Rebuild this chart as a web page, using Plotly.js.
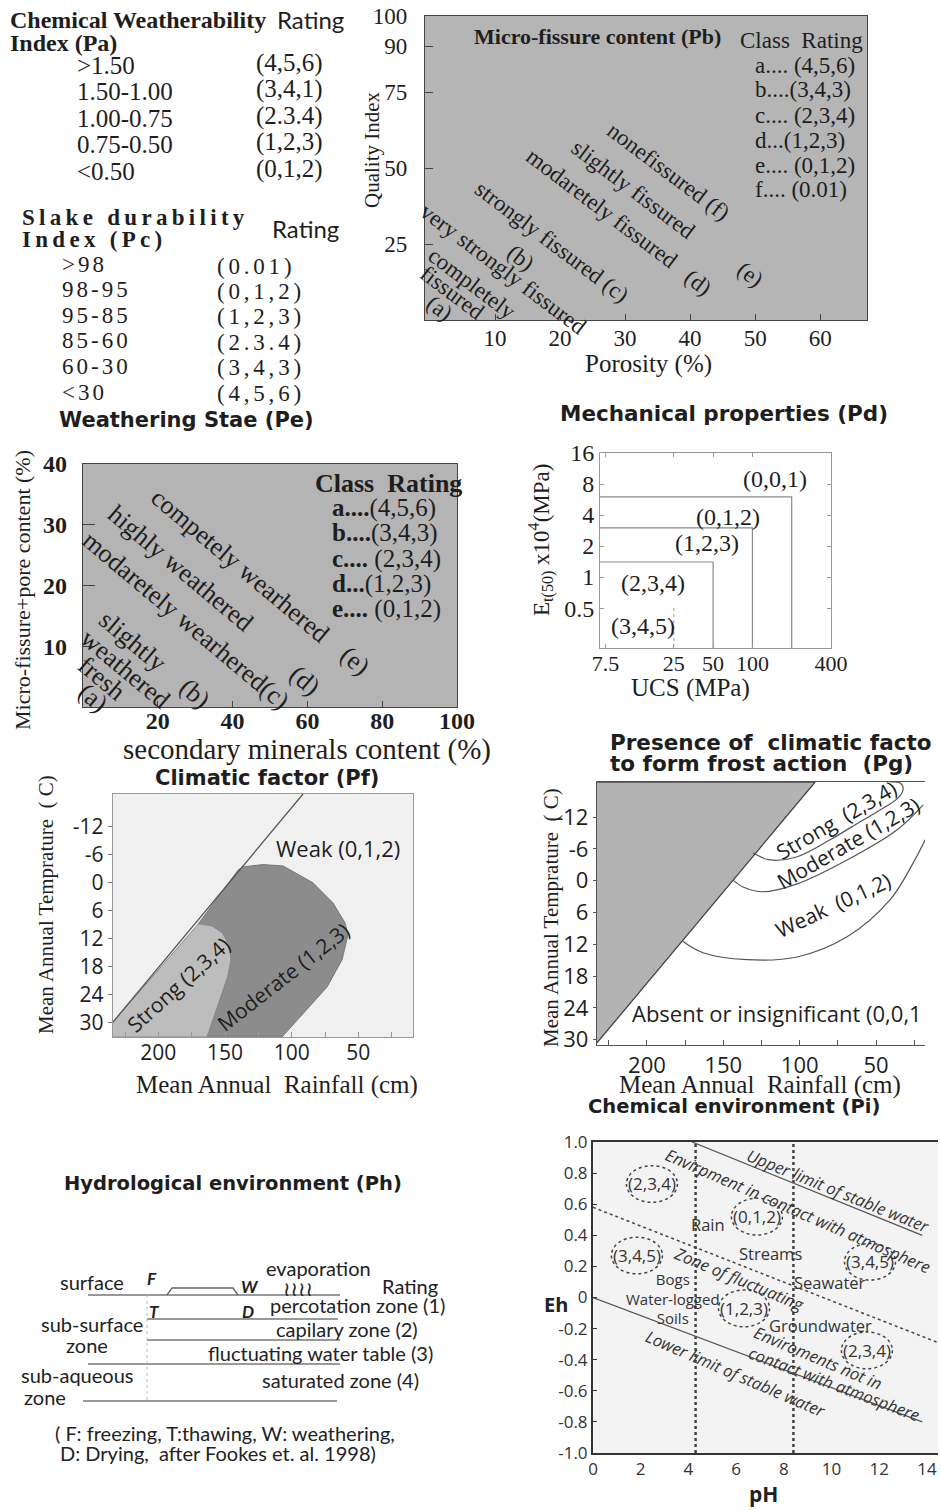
<!DOCTYPE html>
<html><head><meta charset="utf-8">
<script src="https://cdn.plot.ly/plotly-3.0.1.min.js"></script>
<style>html,body{margin:0;padding:0;background:#fff}#chart{width:941px;height:1510px}</style>
</head><body><div id="chart"></div>
<script>
// ================= DATA =================
// Chemical Weatherability Index (Pa)
const paRanges  = ['>1.50','1.50-1.00','1.00-0.75','0.75-0.50','<0.50'];
const paRatings = ['(4,5,6)','(3,4,1)','(2.3.4)','(1,2,3)','(0,1,2)'];
// Slake durability Index (Pc)
const pcRanges  = ['>98','98-95','95-85','85-60','60-30','<30'];
const pcRatings = ['(0.01)','(0,1,2)','(1,2,3)','(2.3.4)','(3,4,3)','(4,5,6)'];
// Micro-fissure content (Pb)
const pbXTicks = [10,20,30,40,50,60];
const pbYTicks = [25,50,75,90,100];
const pbClassLabels  = ['a.... ','b....','c.... ','d...','e.... ','f.... '];
const pbClassRatings = ['(4,5,6)','(3,4,3)','(2,3,4)','(1,2,3)','(0,1,2)','(0.01)'];
// Weathering state (Pe)
const peXTicks = [20,40,60,80,100];
const peYTicks = [10,20,30,40];
const peClassLabels  = ['a....','b....','c.... ','d...','e.... '];
const peClassRatings = ['(4,5,6)','(3,4,3)','(2,3,4)','(1,2,3)','(0,1,2)'];
// Mechanical properties (Pd)
const pdXTicks = [7.5,25,50,100,400];
const pdYTicks = [0.5,1,2,4,8,16];
const pdUcsLimits = [50,100,200];
const pdEtLimits  = [1.4,3,6];
const pdDotUcs = 25, pdDotEt = 0.5;
const pdRatings = ['(3,4,5)','(2,3,4)','(1,2,3)','(0,1,2)','(0,0,1)'];
// Climatic factor (Pf)
const rainTicks = [200,150,100,50];
const rainMinorTicks = [225,175,125,75,25];
const tempTicks = [-12,-6,0,6,12,18,24,30];
const pfLimitRain = [234,91.5];
const pfLimitTemp = [29.8,-19];
const pfStrongRain = [234,170,160,152,147,145.5,148,154,163.5,234];
const pfStrongTemp = [29.8,8.8,9.2,10.7,13.3,16.5,20.1,25.1,33,33];
const pfModRain = [170,140,136.5,121.5,106.5,84,69,60,57.75,62.25,73.5,91.5,107.25,163.5,154,148,145.5,147,152,160];
const pfModTemp = [8.8,-2.8,-3.4,-3.9,-3.6,0,4.3,8.6,11.1,16.5,22.3,27.9,33,33,25.1,20.1,16.5,13.3,10.7,9.2];
// Frost action (Pg)
const pgFrostRain = [232.7,89.9,232.7];
const pgFrostTemp = [-18.6,-18.6,30.6];
const pgStrongRain = [130.5,119.4,101.7,80.1,60.5,47.4,35.6,32.3,34.3,40.8];
const pgStrongTemp = [-5.2,-3.9,-4.5,-7.7,-11.1,-13.3,-15.6,-17.3,-18.4,-18.6];
const pgModRain = [143.6,137.1,124,101.7,69,36.2,19.2];
const pgModTemp = [-0.1,1.2,2.1,0.6,-3.9,-9.6,-14.3];
const pgWeakRain = [176.4,163.3,134.5,101.7,69,40.8,25.8,17.9];
const pgWeakTemp = [11.5,13.6,14.9,14.4,10.6,3.6,-3.3,-7.7];
// Chemical environment (Pi)
const phTicks = [0,2,4,6,8,10,12,14];
const ehTicks = [-1,-0.8,-0.6,-0.4,-0.2,0,0.2,0.4,0.6,0.8,1];
const ehLabels = ['-1.0','-0.8','-0.6','-0.4','-0.2','0','0.2','0.4','0.6','0.8','1.0'];
const piUpperPh = [4.15,13.8],  piUpperEh = [1.0,0.40];
const piLowerPh = [0,13.8],     piLowerEh = [0,-0.80];
const piFluctPh = [0,14.46],    piFluctEh = [0.58,-0.29];
const piBoundPh = [4.3,8.4];
const piEllipsePh = [2.47,6.87,1.84,11.61,6.33,11.48];
const piEllipseEh = [0.73,0.52,0.27,0.23,-0.07,-0.34];
const piEllipseLabels = ['(2,3,4)','(0,1,2)','(3,4,5)','(3,4,5)','(1,2,3)','(2,3,4)'];
// Hydrological environment (Ph) schematic (diagram units)
const phLineDepth = [15,39,60,84,121];
const phLineStart = [88,147,147,88,83];
const phLineEnd   = [340,338,340,340,337];
const phBumpX = [167,172,233,238], phBumpDepth = [15,8,8,15];
const phZoneNames = ['percotation zone (1)','capilary zone (2)','fluctuating water table (3)','saturated zone (4)'];

// ================= DRAWING =================
const W = 941, H = 1510;
const SERIF = 'Liberation Serif, Times New Roman, serif';
const SANS = 'Open Sans, sans-serif';
const TSANS = 'DejaVu Sans, sans-serif';
const LATO = 'Lato, sans-serif';
const INK = '#1e1e1e';
const esc = s => s.replace(/&/g,'&amp;').replace(/</g,'&lt;').replace(/>/g,'&gt;');
const dx = (l,r) => [l/W, r/W];
const dy = (t,b) => [1-b/H, 1-t/H];
function T(x,y,text,font,o){
  return Object.assign({xref:'paper',yref:'paper',x:x/W,y:1-y/H,text:text,showarrow:false,
    xanchor:'center',yanchor:'middle',font:Object.assign({family:SERIF,size:20,color:INK},font||{})},o||{});
}
function axis(domain,o){
  return Object.assign({domain:domain,showgrid:false,zeroline:false,showline:true,linecolor:'#444',linewidth:1.2,
    ticks:'inside',tickcolor:'#444',ticklen:6,tickmode:'array',fixedrange:true,automargin:false,
    tickfont:{family:SERIF,size:22,color:INK}},o);
}
const ann = [];
const shapes = [];
const traces = [];

// ---------- Tables Pa / Pc ----------
ann.push(T(8,20,'<b>Chemical Weatherability</b>',{size:24},{xanchor:'left'}));
ann.push(T(275,20,'Rating',{family:LATO,size:24},{xanchor:'left'}));
ann.push(T(8,43,'<b>Index (Pa)</b>',{size:24},{xanchor:'left'}));
paRanges.forEach((r,i)=>{
  ann.push(T(75,65+i*26.5,esc(r),{size:25},{xanchor:'left'}));
  ann.push(T(254,63+i*26.5,paRatings[i],{size:25},{xanchor:'left'}));
});
const LS = (s,n) => '<span style="letter-spacing:'+(n||3)+'px">'+s+'</span>';
ann.push(T(20,217,'<b>'+LS('Slake durability',4.3)+'</b>',{size:23},{xanchor:'left'}));
ann.push(T(20,239,'<b>'+LS('Index (Pc)',4.3)+'</b>',{size:23},{xanchor:'left'}));
ann.push(T(270,228,'Rating',{family:LATO,size:24},{xanchor:'left'}));
pcRanges.forEach((r,i)=>{
  ann.push(T(60,264+i*25.6,LS(esc(r)),{size:23},{xanchor:'left'}));
  ann.push(T(215,266+i*25.4,LS(pcRatings[i],3.8),{size:23},{xanchor:'left'}));
});
ann.push(T(57,420,'<b>Weathering Stae (Pe)</b>',{family:TSANS,size:21},{xanchor:'left'}));

// ---------- Pb : Micro-fissure content ----------
shapes.push({type:'rect',xref:'x domain',yref:'y domain',x0:0,x1:1,y0:0,y1:1,fillcolor:'#b5b5b5',line:{width:0},layer:'below'});
const L = {};
L.xaxis = axis(dx(425,867),{anchor:'y',range:[-0.77,67.2],tickvals:pbXTicks,mirror:true,ticklabelstandoff:-3,tickfont:{family:SERIF,size:23,color:INK}});
L.yaxis = axis(dy(16,320),{anchor:'x',range:[0,100],tickvals:pbYTicks,mirror:true,ticklen:8,ticklabelstandoff:12,tickfont:{family:SERIF,size:23,color:INK}});
traces.push({type:'scatter',mode:'markers',xaxis:'x',yaxis:'y',x:[],y:[],hoverinfo:'skip'});
ann.push(T(372,150,'Quality Index',{size:21},{textangle:-90}));
ann.push(T(648,364,'Porosity (%)',{size:25}));
ann.push(T(597,37,'<b>Micro-fissure content (Pb)</b>',{size:22}));
ann.push(T(738,40,'Class\u00a0\u00a0Rating',{size:23},{xanchor:'left'}));
pbClassLabels.forEach((c,i)=>ann.push(T(753,65+i*25,c+pbClassRatings[i],{size:23},{xanchor:'left'})));
[['nonefissured (f)',668,172],['slightly fissured',633,190],['modaretely fissured',602,208],
 ['strongly fissured (c)',551,242],['(b)',520,258],['(d)',698,282],['(e)',750,275],
 ['very strongly fissured',504,269],['completely',472,283],['fissured',452,292],['(a)',440,308]]
 .forEach(a=>ann.push(T(a[1],a[2],a[0],{size:23},{textangle:37})));

// ---------- Pe : Weathering state ----------
shapes.push({type:'rect',xref:'x2 domain',yref:'y2 domain',x0:0,x1:1,y0:0,y1:1,fillcolor:'#b4b4b4',line:{width:0},layer:'below'});
L.xaxis2 = axis(dx(83,457),{anchor:'y2',range:[0,100],tickvals:peXTicks,ticktext:peXTicks.map(v=>'<b>'+v+'</b>'),mirror:true,ticklabelstandoff:-8,tickfont:{family:SERIF,size:24,color:INK}});
L.yaxis2 = axis(dy(464,707),{anchor:'x2',range:[0,40],tickvals:peYTicks,ticktext:peYTicks.map(v=>'<b>'+v+'</b>'),mirror:true,ticklen:12,ticklabelstandoff:10,tickfont:{family:SERIF,size:24,color:INK}});
traces.push({type:'scatter',mode:'markers',xaxis:'x2',yaxis:'y2',x:[],y:[],hoverinfo:'skip'});
ann.push(T(22,590,'Micro-fissure+pore content (%)',{size:22},{textangle:-90}));
ann.push(T(307,749,'secondary minerals content (%)',{size:29}));
ann.push(T(388,484,'<b>Class\u00a0\u00a0Rating</b>',{size:26}));
peClassLabels.forEach((c,i)=>ann.push(T(330,508+i*25.3,'<b>'+c+'</b>'+peClassRatings[i],{size:25},{xanchor:'left'})));
[['competely wearhered',240,565],['(e)',355,660],['highly weathered',181,568],['modaretely wearhered(c)',186,620],
 ['(d)',305,680],['slightly',133,641],['weathered',126,669],['(b)',195,693],['fresh',102,678],['(a)',93,697]]
 .forEach(a=>ann.push(T(a[1],a[2],a[0],{size:26},{textangle:40})));

// ---------- Pd : Mechanical properties ----------
const PD_X = [Math.log10(6.8),Math.log10(400)], PD_Y = [Math.log10(0.205),Math.log10(16)];
const PD_XMIN = Math.pow(10,PD_X[0]), PD_YMIN = Math.pow(10,PD_Y[0]);
L.xaxis3 = axis(dx(600,831),{anchor:'y3',type:'log',range:PD_X,tickvals:pdXTicks,ticktext:pdXTicks.map(String),mirror:'allticks',linecolor:'#999',linewidth:1,tickcolor:'#999',ticklen:4,ticklabelstandoff:-4,tickfont:{family:SERIF,size:22,color:INK}});
L.yaxis3 = axis(dy(453,648),{anchor:'x3',type:'log',range:PD_Y,tickvals:pdYTicks,ticktext:pdYTicks.map(String),mirror:'allticks',linecolor:'#999',linewidth:1,tickcolor:'#999',ticklen:4,tickfont:{family:SERIF,size:24,color:INK}});
pdUcsLimits.forEach((u,i)=>traces.push({type:'scatter',mode:'lines',xaxis:'x3',yaxis:'y3',
  x:[PD_XMIN,u,u],y:[pdEtLimits[i],pdEtLimits[i],PD_YMIN],line:{color:'#8a8a8a',width:1.2},hoverinfo:'skip'}));
traces.push({type:'scatter',mode:'lines',xaxis:'x3',yaxis:'y3',x:[pdDotUcs,pdDotUcs],y:[pdDotEt,PD_YMIN],line:{color:'#aaa',width:1.2,dash:'dot'},hoverinfo:'skip'});
ann.push(T(724,413,'<b>Mechanical properties (Pd)</b>',{family:TSANS,size:21.5}));
[[643,626],[653,583],[707,543],[728,517],[775,479]].forEach((p,i)=>ann.push(T(p[0],p[1],pdRatings[i],{size:24})));
ann.push(T(541,540,'E<sub>t(50)</sub> x10<sup>4</sup>(MPa)',{size:23},{textangle:-90}));
ann.push(T(690,688,'UCS (MPa)',{size:25}));

// ---------- Pf : Climatic factor ----------
shapes.push({type:'rect',xref:'x4 domain',yref:'y4 domain',x0:0,x1:1,y0:0,y1:1,fillcolor:'#f0f0f0',line:{width:0},layer:'below'});
const minorRain = {tickmode:'array',tickvals:rainMinorTicks,ticks:'inside',ticklen:5};
L.xaxis4 = axis(dx(113,413),{anchor:'y4',range:[234,9],tickvals:rainTicks,ticktext:rainTicks.map(String),minor:Object.assign({tickcolor:'#999'},minorRain),mirror:true,linecolor:'#999',tickcolor:'#999',ticklen:5,ticklabelstandoff:-3,tickfont:{family:SANS,size:21,color:INK}});
L.yaxis4 = axis(dy(794,1037),{anchor:'x4',range:[33,-19],tickvals:tempTicks,ticktext:tempTicks.map(String),mirror:true,linecolor:'#999',tickcolor:'#777',ticks:'outside',ticklen:4,tickfont:{family:SANS,size:21,color:INK}});
traces.push({type:'scatter',mode:'lines',xaxis:'x4',yaxis:'y4',x:pfModRain,y:pfModTemp,fill:'toself',fillcolor:'#8c8c8c',line:{color:'#777',width:1},hoverinfo:'skip'});
traces.push({type:'scatter',mode:'lines',xaxis:'x4',yaxis:'y4',x:pfStrongRain,y:pfStrongTemp,fill:'toself',fillcolor:'#bdbdbd',line:{color:'#888',width:1},hoverinfo:'skip'});
traces.push({type:'scatter',mode:'lines',xaxis:'x4',yaxis:'y4',x:pfLimitRain,y:pfLimitTemp,line:{color:'#555',width:1.3},hoverinfo:'skip'});
ann.push(T(267,778,'<b>Climatic factor (Pf)</b>',{family:TSANS,size:21}));
ann.push(T(338,848,'Weak (0,1,2)',{family:SANS,size:22}));
ann.push(T(178,985,'Strong (2,3,4)',{family:SANS,size:21},{textangle:-42}));
ann.push(T(283,977,'Moderate (1,2,3)',{family:SANS,size:21},{textangle:-38}));
ann.push(T(46,905,'Mean Annual Temprature\u00a0\u00a0( C)',{size:21},{textangle:-90}));
ann.push(T(277,1085,'Mean Annual\u00a0\u00a0Rainfall (cm)',{size:25}));

// ---------- Pg : Frost action ----------
L.xaxis5 = axis(dx(597,925),{anchor:'y5',range:[232.7,18],tickvals:rainTicks,ticktext:rainTicks.map(String),minor:Object.assign({tickcolor:'#555'},minorRain),mirror:true,linecolor:'#555',tickcolor:'#555',ticklen:5,tickfont:{family:SANS,size:22,color:INK}});
L.yaxis5 = axis(dy(782,1045),{anchor:'x5',range:[31,-18.6],tickvals:tempTicks,ticktext:tempTicks.map(String),mirror:false,linecolor:'#555',tickcolor:'#555',ticks:'outside',ticklen:3,tickfont:{family:SANS,size:22,color:INK}});
traces.push({type:'scatter',mode:'lines',xaxis:'x5',yaxis:'y5',x:pgFrostRain,y:pgFrostTemp,fill:'toself',fillcolor:'#b3b3b3',line:{color:'#444',width:1.3},hoverinfo:'skip'});
[[pgStrongRain,pgStrongTemp],[pgModRain,pgModTemp],[pgWeakRain,pgWeakTemp]].forEach(c=>
  traces.push({type:'scatter',mode:'lines',xaxis:'x5',yaxis:'y5',x:c[0],y:c[1],line:{color:'#555',width:1.2,shape:'spline'},hoverinfo:'skip'}));
ann.push(T(608,742,'<b>Presence of\u00a0\u00a0climatic facto</b>',{family:TSANS,size:21.5},{xanchor:'left'}));
ann.push(T(608,763,'<b>to form frost action\u00a0\u00a0(Pg)</b>',{family:TSANS,size:21.5},{xanchor:'left'}));
ann.push(T(836,820,'Strong\u00a0\u00a0(2,3,4)',{family:SANS,size:21},{textangle:-30}));
ann.push(T(848,843,'Moderate (1,2,3)',{family:SANS,size:21},{textangle:-30}));
ann.push(T(833,905,'Weak\u00a0\u00a0(0,1,2)',{family:SANS,size:21},{textangle:-25}));
ann.push(T(630,1013,'Absent or insignificant (0,0,1',{family:SANS,size:22},{xanchor:'left'}));
ann.push(T(551,918,'Mean Annual Temprature\u00a0\u00a0( C)',{size:21},{textangle:-90}));
ann.push(T(760,1085,'Mean Annual\u00a0\u00a0Rainfall (cm)',{size:25}));
ann.push(T(734,1106,'<b>Chemical environment (Pi)</b>',{family:TSANS,size:19.5}));

// ---------- Pi : Chemical environment ----------
shapes.push({type:'rect',xref:'x6 domain',yref:'y6 domain',x0:0,x1:1,y0:0,y1:1,fillcolor:'#f3f3f3',line:{width:0},layer:'below'});
L.xaxis6 = axis(dx(593,938),{anchor:'y6',range:[0,14.46],tickvals:phTicks,ticktext:phTicks.map(String),mirror:true,linecolor:'#333',linewidth:2,ticks:'',tickfont:{family:SANS,size:17,color:'#333'}});
L.yaxis6 = axis(dy(1142,1453),{anchor:'x6',range:[-1,1],tickvals:ehTicks,ticktext:ehLabels,linecolor:'#333',linewidth:2,ticklen:4,tickcolor:'#333',tickfont:{family:SANS,size:17,color:'#333'}});
piBoundPh.forEach(v=>traces.push({type:'scatter',mode:'lines',xaxis:'x6',yaxis:'y6',x:[v,v],y:[-1,1],line:{color:'#444',width:2.5,dash:'dot'},hoverinfo:'skip'}));
traces.push({type:'scatter',mode:'lines',xaxis:'x6',yaxis:'y6',x:piUpperPh,y:piUpperEh,line:{color:'#555',width:1.3},hoverinfo:'skip'});
traces.push({type:'scatter',mode:'lines',xaxis:'x6',yaxis:'y6',x:piLowerPh,y:piLowerEh,line:{color:'#555',width:1.3},hoverinfo:'skip'});
traces.push({type:'scatter',mode:'lines',xaxis:'x6',yaxis:'y6',x:piFluctPh,y:piFluctEh,line:{color:'#444',width:1.5,dash:'dot'},hoverinfo:'skip'});
const RX = 1.07, RY = 0.118;
piEllipsePh.forEach((p,i)=>{
  shapes.push({type:'circle',xref:'x6',yref:'y6',x0:p-RX,x1:p+RX,y0:piEllipseEh[i]-RY,y1:piEllipseEh[i]+RY,line:{color:'#444',width:1.5,dash:'dot'}});
  ann.push({xref:'x6',yref:'y6',x:p,y:piEllipseEh[i],text:piEllipseLabels[i],showarrow:false,font:{family:SANS,size:17,color:'#333'}});
});
const PI = {family:SANS,size:16.5,color:'#333'};
ann.push(T(838,1190,'<i>Upper limit of stable water</i>',PI,{textangle:22}));
ann.push(T(798,1210,'<i>Envirpment in contact with atmosphere</i>',PI,{textangle:23.5}));
ann.push(T(739,1278,'<i>Zone of fluctuating</i>',PI,{textangle:22.6}));
ann.push(T(818,1357,'<i>Enviroments not in</i>',PI,{textangle:22.8}));
ann.push(T(834,1383,'<i>contact with atmosphere</i>',PI,{textangle:20.7}));
ann.push(T(736,1373,'<i>Lower limit of stable water</i>',PI,{textangle:23.3}));
[['Rain',708,1224],['Streams',770,1253],['Seawater',830,1282],['Groundwater',820,1325]]
  .forEach(a=>ann.push(T(a[1],a[2],a[0],{family:SANS,size:16.5,color:'#333'})));
ann.push(T(673,1298,'Bogs<br>Water-logged<br>Soils',{family:SANS,size:15,color:'#333'},{align:'center'}));
ann.push(T(556,1304,'<b>Eh</b>',{family:SANS,size:20,color:'#222'}));
ann.push(T(763,1494,'<b>pH</b>',{family:SANS,size:21,color:'#222'}));

// ---------- Ph : Hydrological environment (schematic) ----------
L.xaxis7 = {domain:dx(0,470),range:[0,470],visible:false,fixedrange:true,anchor:'y7'};
L.yaxis7 = {domain:dy(1280,1420),range:[140,0],visible:false,fixedrange:true,anchor:'x7'};
phLineDepth.forEach((d,i)=>traces.push({type:'scatter',mode:'lines',xaxis:'x7',yaxis:'y7',x:[phLineStart[i],phLineEnd[i]],y:[d,d],line:{color:'#777',width:1.3},hoverinfo:'skip'}));
traces.push({type:'scatter',mode:'lines',xaxis:'x7',yaxis:'y7',x:phBumpX,y:phBumpDepth,line:{color:'#666',width:1.3},hoverinfo:'skip'});
traces.push({type:'scatter',mode:'lines',xaxis:'x7',yaxis:'y7',x:[phLineStart[1],phLineStart[1]],y:[phLineDepth[0],phLineDepth[4]],line:{color:'#bbb',width:1,dash:'dot'},hoverinfo:'skip'});
const PHF = {family:LATO,size:20,color:'#222'};
ann.push(T(233,1183,'<b>Hydrological environment (Ph)</b>',{family:TSANS,size:19.5}));
ann.push(T(92,1282,'surface',PHF));
ann.push(T(152,1278,'<b><i>F</i></b>',Object.assign({},PHF,{size:17})));
ann.push(T(250,1286,'<b><i>W</i></b>',Object.assign({},PHF,{size:17})));
ann.push(T(154,1311,'<b><i>T</i></b>',Object.assign({},PHF,{size:17})));
ann.push(T(248,1311,'<b><i>D</i></b>',Object.assign({},PHF,{size:17})));
ann.push(T(318,1268,'evaporation',PHF));
ann.push(T(298,1289,'\u2240\u2240\u2240\u2240',Object.assign({},PHF,{family:TSANS,size:20})));
ann.push(T(410,1286,'Rating',PHF));
const zoneY = [1305,1329,1353,1380], zoneX = [357,347,320,340];
phZoneNames.forEach((z,i)=>ann.push(T(zoneX[i],zoneY[i],z,PHF)));
ann.push(T(92,1324,'sub-surface',PHF));
ann.push(T(87,1345,'zone',PHF));
ann.push(T(77,1375,'sub-aqueous',PHF));
ann.push(T(45,1397,'zone',PHF));
ann.push(T(53,1433,'( F: freezing, T:thawing, W: weathering,',PHF,{xanchor:'left'}));
ann.push(T(58,1453,'D: Drying,\u00a0\u00a0after Fookes et. al. 1998)',PHF,{xanchor:'left'}));

const layout = Object.assign({width:W,height:H,margin:{l:0,r:0,t:0,b:0},showlegend:false,
  paper_bgcolor:'#ffffff',plot_bgcolor:'rgba(0,0,0,0)',annotations:ann,shapes:shapes},L);
Plotly.newPlot('chart',traces,layout,{staticPlot:true,displayModeBar:false});
</script></body></html>
